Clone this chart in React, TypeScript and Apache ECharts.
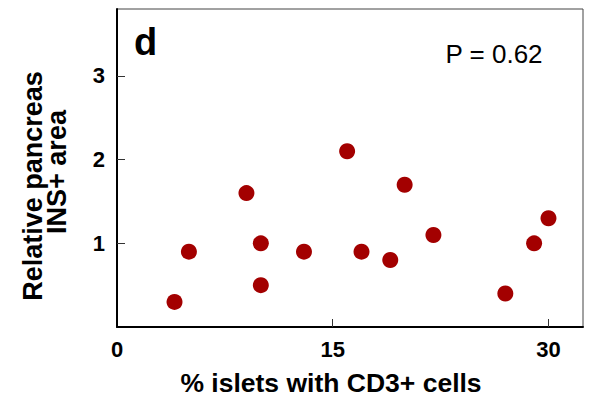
import React, { useEffect, useRef } from "react";
import * as echarts from "echarts";

const xValues = [4, 5, 9, 10, 10, 13, 16, 17, 19, 20, 22, 27, 29, 30];
const yValues = [0.3, 0.9, 1.6, 1.0, 0.5, 0.9, 2.1, 0.9, 0.8, 1.7, 1.1, 0.4, 1.0, 1.3];
const xTickLabels = [0, 15, 30];
const xTicks = [15, 30];
const yTickLabels = [1, 2, 3];

const panelLabel = "d";
const pLabel = "P = 0.62";
const xTitle = "% islets with CD3+ cells";
const yTitleLines = ["Relative pancreas", "INS+ area"];

export default function App() {
  const ref = useRef<HTMLDivElement>(null);
  useEffect(() => {
    if (!ref.current) return;
    const chart = echarts.init(ref.current, null, { renderer: "svg" });
    const font = "'Liberation Sans', Arial, Helvetica, sans-serif";
    chart.setOption({
      animation: false,
      grid: {
        left: 117,
        top: 9,
        right: 9,
        bottom: 71,
        show: true,
        borderColor: "#444",
        borderWidth: 1,
        backgroundColor: "#fff",
      },
      xAxis: {
        type: "value",
        min: 0,
        max: 32.4,
        splitLine: { show: false },
        axisLine: { show: true, onZero: false, lineStyle: { color: "#000", width: 2 } },
        axisTick: {
          show: true,
          inside: true,
          length: 8,
          customValues: xTicks,
          lineStyle: { color: "#333", width: 1 },
        },
        axisLabel: {
          show: true,
          customValues: xTickLabels,
          margin: 11,
          color: "#000",
          fontSize: 22,
          fontWeight: "bold",
          fontFamily: font,
        },
      },
      yAxis: {
        type: "value",
        min: 0,
        max: 3.8,
        splitLine: { show: false },
        axisLine: { show: true, onZero: false, lineStyle: { color: "#000", width: 2 } },
        axisTick: {
          show: true,
          inside: true,
          length: 8,
          customValues: yTickLabels,
          lineStyle: { color: "#333", width: 1 },
        },
        axisLabel: {
          show: true,
          customValues: yTickLabels,
          margin: 12,
          color: "#000",
          fontSize: 22,
          fontWeight: "bold",
          fontFamily: font,
        },
      },
      series: [
        {
          type: "scatter",
          data: xValues.map((x, i) => [x, yValues[i]]),
          symbol: "circle",
          symbolSize: 16,
          itemStyle: { color: "#a30000", opacity: 1 },
          emphasis: { disabled: true },
        },
      ],
      graphic: [
        {
          type: "text",
          x: 134,
          y: 42,
          style: {
            text: panelLabel,
            font: `bold 38px ${font}`,
            fill: "#000",
            textAlign: "left",
            textVerticalAlign: "middle",
          },
        },
        {
          type: "text",
          x: 494,
          y: 54,
          style: {
            text: pLabel,
            font: `26px ${font}`,
            fill: "#000",
            textAlign: "center",
            textVerticalAlign: "middle",
          },
        },
        {
          type: "text",
          x: 331,
          y: 383,
          style: {
            text: xTitle,
            font: `bold 26.5px ${font}`,
            fill: "#000",
            textAlign: "center",
            textVerticalAlign: "middle",
          },
        },
        {
          type: "text",
          x: 33,
          y: 186,
          rotation: Math.PI / 2,
          style: {
            text: yTitleLines[0],
            font: `bold 27px ${font}`,
            fill: "#000",
            textAlign: "center",
            textVerticalAlign: "middle",
          },
        },
        {
          type: "text",
          x: 57,
          y: 172,
          rotation: Math.PI / 2,
          style: {
            text: yTitleLines[1],
            font: `bold 27px ${font}`,
            fill: "#000",
            textAlign: "center",
            textVerticalAlign: "middle",
          },
        },
      ],
    });
    return () => chart.dispose();
  }, []);
  return <div ref={ref} style={{ width: 592, height: 398, position: "absolute", left: 0, top: 0 }} />;
}
